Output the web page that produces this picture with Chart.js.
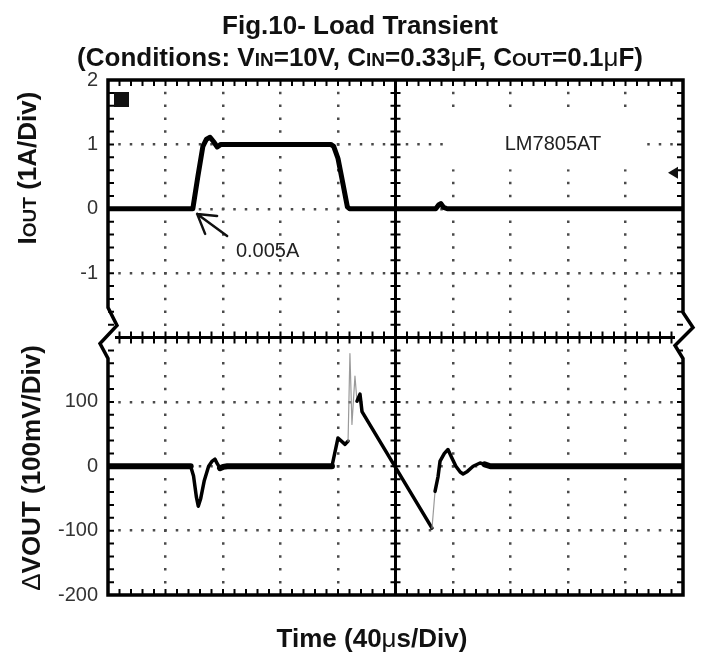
<!DOCTYPE html>
<html>
<head>
<meta charset="utf-8">
<script src="https://cdn.jsdelivr.net/npm/chart.js@4.4.1/dist/chart.umd.min.js"></script>
<style>
  body { margin: 0; background: #fff; }
  #wrap { width: 702px; height: 657px; }
</style>
</head>
<body>
<div id="wrap"><canvas id="chart"></canvas></div>
<script>
// time axis in microseconds, 40us per division
var timeTicks = [0, 40, 80, 120, 160, 200, 240, 280, 320, 360, 400];

// output current trace (A)
var timeI    = [0, 59, 62.5, 66, 68.5, 71, 73.5, 76, 78.5, 120, 155, 157, 160, 163.5, 166.5, 168, 228, 230, 231.5, 233.5, 236, 400];
var currentA = [0, 0, 0.5, 0.97, 1.08, 1.11, 1.04, 0.96, 1.0, 1.0, 1.0, 0.97, 0.78, 0.38, 0.03, 0, 0, 0.06, 0.08, 0.02, 0, 0];

// output voltage deviation trace (mV)
var timeV  = [0, 57.5, 59.5, 61.5, 62.8, 64.5, 67, 70, 72.5, 74.4, 76, 77.9, 80, 83, 155.8, 160, 164.9, 167, 168.3, 169.7, 171.8, 173.2, 175.3, 176.7, 225.4, 227.5, 229.6, 231, 234, 236.5, 239, 242, 245, 247, 250, 254, 258.8, 262, 266, 400];
var deltaV = [0, 0, -15, -48, -62, -50, -22, 0, 8, 11, 4, -3, -1, 0, 0, 44, 34, 39, 175, 65, 140, 101, 112, 85, -96, -39, -16, 8, 20, 26, 14, 0, -9, -12, -8, 0, 5, 3, 0, 0];

// labelled ticks on the two stacked y axes
var currentTicks = [2, 1, 0, -1];
var voltTicks = [100, 0, -100, -200];

var FONT = '"Liberation Sans", Arial, Helvetica, sans-serif';
var clear = 'rgba(0,0,0,0)';
var dotColor = '#4a4a4a';

function pts(xs, ys) {
  return xs.map(function (x, i) { return { x: x, y: ys[i] }; });
}

function steep(c) {
  var dx = c.p1.parsed.x - c.p0.parsed.x;
  var dy = Math.abs(c.p1.parsed.y - c.p0.parsed.y);
  return dy / dx > 25;
}

// text made of runs with different sizes (small caps subscripts)
function drawRuns(ctx, runs, x, y, angle) {
  ctx.save();
  ctx.translate(x, y);
  ctx.rotate(angle || 0);
  ctx.textBaseline = 'alphabetic';
  ctx.textAlign = 'left';
  ctx.fillStyle = '#111';
  var total = 0;
  runs.forEach(function (r) {
    ctx.font = (r[2] || 'bold') + ' ' + r[1] + 'px ' + FONT;
    r.w = ctx.measureText(r[0]).width;
    total += r.w;
  });
  var cx = -total / 2;
  runs.forEach(function (r) {
    ctx.font = (r[2] || 'bold') + ' ' + r[1] + 'px ' + FONT;
    ctx.fillText(r[0], cx, 0);
    cx += r.w;
  });
  ctx.restore();
}

function line(ctx, x1, y1, x2, y2) {
  ctx.moveTo(x1, y1);
  ctx.lineTo(x2, y2);
}

var scopePlugin = {
  id: 'scope',
  beforeDatasetsDraw: function (chart) {
    var ctx = chart.ctx, a = chart.chartArea;
    var xs = chart.scales.x, yI = chart.scales.yI, yV = chart.scales.yV;
    var midX = xs.getPixelForValue(200);
    var midY = yI.getPixelForValue(-2);

    // white patch behind the part number label
    var lx = xs.getPixelForValue(276), ly = yI.getPixelForValue(1.0);
    ctx.save();
    ctx.fillStyle = '#fff';
    ctx.fillRect(lx - 60, ly - 32, 200, 57);

    // frame with break marks
    ctx.beginPath();
    ctx.moveTo(a.left, midY - 30);
    ctx.lineTo(a.left, a.top);
    ctx.lineTo(a.right, a.top);
    ctx.lineTo(a.right, midY - 25);
    ctx.lineTo(a.right + 10, midY - 10);
    ctx.lineTo(a.right - 8, midY + 8);
    ctx.lineTo(a.right, midY + 21);
    ctx.lineTo(a.right, a.bottom);
    ctx.lineTo(a.left, a.bottom);
    ctx.lineTo(a.left, midY + 21);
    ctx.lineTo(a.left - 8, midY + 6);
    ctx.lineTo(a.left + 9, midY - 12);
    ctx.closePath();
    ctx.lineWidth = 3.5;
    ctx.strokeStyle = '#000';
    ctx.lineJoin = 'miter';
    ctx.stroke();

    // centre cross lines
    ctx.beginPath();
    line(ctx, midX, a.top, midX, a.bottom);
    line(ctx, a.left + 7, midY, a.right - 8, midY);
    ctx.lineWidth = 3;
    ctx.stroke();

    // minor division ticks
    ctx.beginPath();
    for (var t = 8; t < 400; t += 8) {
      var px = xs.getPixelForValue(t);
      line(ctx, px, midY - 6, px, midY + 6);
      line(ctx, px, a.top, px, a.top + 6);
      line(ctx, px, a.bottom, px, a.bottom - 6);
    }
    var ys = [];
    for (var k = 1; k < 20; k++) {
      ys.push(yI.getPixelForValue(-2 + k * 0.2));
      ys.push(yV.getPixelForValue(-200 + k * 20));
    }
    ys.forEach(function (py) {
      line(ctx, midX - 5, py, midX + 5, py);
      line(ctx, a.left, py, a.left + 6, py);
      line(ctx, a.right, py, a.right - 6, py);
    });
    ctx.lineWidth = 2;
    ctx.stroke();
    ctx.restore();
  },
  afterDatasetsDraw: function (chart) {
    var ctx = chart.ctx, a = chart.chartArea;
    var xs = chart.scales.x, yI = chart.scales.yI;
    ctx.save();

    // channel markers
    ctx.fillStyle = '#111';
    ctx.fillRect(a.left + 6, a.top + 12, 15, 15);
    var my = yI.getPixelForValue(0.56);
    ctx.beginPath();
    ctx.moveTo(a.right - 15, my);
    ctx.lineTo(a.right - 5, my - 6);
    ctx.lineTo(a.right - 5, my + 6);
    ctx.closePath();
    ctx.fill();

    // annotations
    ctx.fillStyle = '#222';
    ctx.font = '20px ' + FONT;
    ctx.textBaseline = 'middle';
    ctx.textAlign = 'left';
    ctx.fillText('LM7805AT', xs.getPixelForValue(276), yI.getPixelForValue(1.0));
    ctx.fillText('0.005A', xs.getPixelForValue(89), yI.getPixelForValue(-0.67));

    var tx = xs.getPixelForValue(62), ty = yI.getPixelForValue(-0.08);
    ctx.beginPath();
    line(ctx, tx, ty, tx + 30, ty + 22);
    line(ctx, tx, ty, tx + 20, ty + 2);
    line(ctx, tx, ty, tx + 8, ty + 20);
    ctx.lineWidth = 2.5;
    ctx.strokeStyle = '#111';
    ctx.lineCap = 'round';
    ctx.stroke();
    ctx.restore();
  },
  afterDraw: function (chart) {
    var ctx = chart.ctx;
    drawRuns(ctx, [['Fig.10- Load Transient', 26]], 360, 34);
    drawRuns(ctx, [
      ['(Conditions: V', 26], ['IN', 19], ['=10V, C', 26], ['IN', 19], ['=0.33', 26],
      ['\u03bc', 26, 'normal'], ['F, C', 26], ['OUT', 19], ['=0.1', 26], ['\u03bc', 26, 'normal'], ['F)', 26]
    ], 360, 66);
    drawRuns(ctx, [['I', 26], ['OUT', 19], [' (1A/Div)', 26]], 36, 168, -Math.PI / 2);
    drawRuns(ctx, [['\u0394', 26, 'normal'], ['VOUT (100mV/Div)', 26]], 40, 468, -Math.PI / 2);
    drawRuns(ctx, [['Time (40', 26], ['\u03bc', 26, 'normal'], ['s/Div)', 26]], 372, 647);
  }
};

var tickFont = { family: FONT, size: 20 };

var chart = new Chart(document.getElementById('chart'), {
  type: 'line',
  data: {
    datasets: [{
      label: 'IOUT',
      yAxisID: 'yI',
      data: pts(timeI, currentA),
      borderColor: '#000',
      borderWidth: 5,
      borderJoinStyle: 'round',
      pointRadius: 0,
      tension: 0
    }, {
      label: 'dVOUT',
      yAxisID: 'yV',
      data: pts(timeV, deltaV),
      borderColor: '#000',
      borderWidth: 3.5,
      borderJoinStyle: 'round',
      borderCapStyle: 'round',
      pointRadius: 0,
      tension: 0,
      segment: {
        borderWidth: function (c) {
          if (steep(c)) return 1.2;
          if (Math.abs(c.p0.parsed.y) < 4 && Math.abs(c.p1.parsed.y) < 4) return 6;
          return 3.5;
        },
        borderColor: function (c) { return steep(c) ? '#9a9a9a' : '#000'; }
      }
    }]
  },
  options: {
    responsive: true,
    maintainAspectRatio: false,
    animation: false,
    events: [],
    layout: { padding: { top: 80, right: 19, bottom: 62, left: 0 } },
    plugins: { legend: { display: false }, tooltip: { enabled: false } },
    scales: {
      x: {
        type: 'linear',
        min: 0,
        max: 400,
        afterBuildTicks: function (s) { s.ticks = timeTicks.map(function (v) { return { value: v }; }); },
        afterFit: function (s) { s.height = 0; },
        ticks: { display: false },
        border: { display: false, dash: [2.5, 10.375], dashOffset: 1.25 },
        grid: {
          drawTicks: false,
          lineWidth: 2.5,
          color: function (c) {
            var v = c.tick.value;
            return (v === 0 || v === 200 || v === 400) ? clear : dotColor;
          }
        }
      },
      yV: {
        type: 'linear',
        position: 'left',
        stack: 'scope',
        stackWeight: 1,
        min: -200,
        max: 200,
        afterFit: function (s) { s.width = 108; },
        ticks: {
          stepSize: 100,
          autoSkip: false,
          padding: 10,
          color: '#333',
          font: tickFont,
          callback: function (v) { return voltTicks.indexOf(v) >= 0 ? String(v) : ''; }
        },
        border: { display: false, dash: [2.5, 9], dashOffset: 1.25 },
        grid: {
          drawTicks: false,
          lineWidth: 2.5,
          color: function (c) {
            var v = c.tick.value;
            return (v === 200 || v === -200) ? clear : dotColor;
          }
        }
      },
      yI: {
        type: 'linear',
        position: 'left',
        stack: 'scope',
        stackWeight: 1,
        min: -2,
        max: 2,
        afterFit: function (s) { s.width = 108; },
        ticks: {
          stepSize: 1,
          autoSkip: false,
          padding: 10,
          color: '#333',
          font: tickFont,
          callback: function (v) { return currentTicks.indexOf(v) >= 0 ? String(v) : ''; }
        },
        border: { display: false, dash: [2.5, 9], dashOffset: 1.25 },
        grid: {
          drawTicks: false,
          lineWidth: 2.5,
          color: function (c) {
            var v = c.tick.value;
            return (v === 2 || v === -2) ? clear : dotColor;
          }
        }
      }
    }
  },
  plugins: [scopePlugin]
});
</script>
</body>
</html>
